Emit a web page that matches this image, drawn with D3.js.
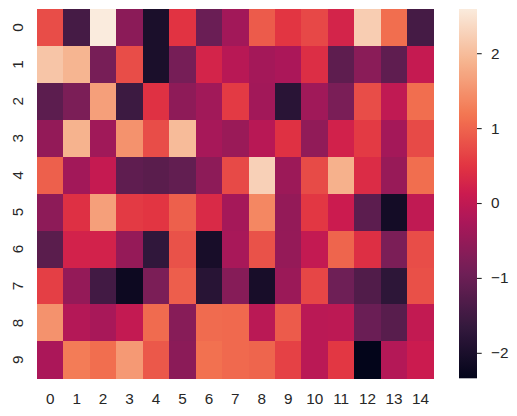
<!DOCTYPE html>
<html>
<head>
<meta charset="utf-8">
<script src="https://cdn.jsdelivr.net/npm/d3@7"></script>
<style>
  html, body { margin: 0; padding: 0; background: #ffffff; }
  svg { display: block; }
  text { font-family: "Liberation Sans", Arial, sans-serif; }
</style>
</head>
<body>
<svg id="chart" width="517" height="416"></svg>
<script>
const rowLabels = ["0","1","2","3","4","5","6","7","8","9"];
const colLabels = ["0","1","2","3","4","5","6","7","8","9","10","11","12","13","14"];

const row0 = [0.75, -1.45, 2.59, -0.62, -2.0, 0.48, -1.0, -0.35, 0.9, 0.5, 0.7, 0.25, 2.2, 1.1, -1.45];
const row1 = [2.1, 1.9, -0.85, 0.75, -2.0, -0.86, 0.25, -0.1, -0.33, -0.25, 0.4, -1.15, -0.63, -1.13, 0.05];
const row2 = [-1.17, -0.8, 1.65, -1.55, 0.45, -0.58, -0.37, 0.55, -0.35, -1.8, -0.38, -0.82, 0.75, 0.0, 1.1];
const row3 = [-0.53, 1.88, -0.38, 1.5, 0.75, 1.98, -0.3, -0.45, -0.1, 0.45, -0.55, 0.22, 0.55, -0.33, 0.72];
const row4 = [0.95, -0.35, 0.05, -1.13, -1.2, -1.1, -0.6, 0.72, 2.25, -0.42, 0.73, 1.85, 0.38, -0.47, 1.1];
const row5 = [-0.6, 0.43, 1.65, 0.55, 0.5, 0.95, 0.35, -0.32, 1.38, -0.52, 0.52, 0.12, -1.17, -2.1, 0.0];
const row6 = [-1.2, 0.23, 0.23, -0.5, -1.7, 0.8, -2.05, -0.28, 0.8, -0.5, 0.03, 1.0, 0.42, -0.8, 0.75];
const row7 = [0.6, -0.52, -1.48, -2.2, -0.8, 0.93, -1.82, -0.68, -2.05, -0.43, 0.68, -0.95, -1.3, -1.75, 0.78];
const row8 = [1.5, -0.15, -0.28, 0.03, 1.07, -0.67, 1.07, 1.05, -0.08, 0.9, -0.08, -0.05, -1.0, -1.22, 0.02];
const row9 = [-0.25, 1.25, 1.1, 1.58, 0.87, -0.62, 1.13, 1.05, 1.0, 0.62, -0.08, 0.52, -2.34, -0.15, 0.12];
const rows = [row0, row1, row2, row3, row4, row5, row6, row7, row8, row9];

const cbarTicks = [-2, -1, 0, 1, 2];

// rocket colormap anchors
const rocketStops = [0, 1/7, 2/7, 3/7, 0.5, 4/7, 5/7, 6/7, 1];
const rocketColors = ["#03051a", "#35193e", "#701f57", "#ad1759", "#cb1b4f", "#e13342", "#f37651", "#f6b48f", "#faebdd"];

const cells = [];
rows.forEach((r, i) => r.forEach((v, j) => cells.push({ row: rowLabels[i], col: colLabels[j], v })));

const vmin = d3.min(cells, d => d.v);
const vmax = d3.max(cells, d => d.v);

const rocket = d3.scaleLinear().domain(rocketStops).range(rocketColors).interpolate(d3.interpolateRgb).clamp(true);
const norm = d3.scaleLinear().domain([vmin, vmax]).range([0, 1]);
const color = v => rocket(norm(v));

const svg = d3.select("#chart");
const L = 37, R = 433.7, T = 9, B = 378.3;
const textColor = "#262626";
const fs = "15.3px";
const ff = '"Liberation Sans", Arial, sans-serif';

const x = d3.scaleBand().domain(colLabels).range([L, R]).padding(0);
const y = d3.scaleBand().domain(rowLabels).range([T, B]).padding(0);

svg.append("g").selectAll("rect").data(cells).join("rect")
  .attr("x", d => x(d.col))
  .attr("y", d => y(d.row))
  .attr("width", x.bandwidth() + 0.3)
  .attr("height", y.bandwidth() + 0.3)
  .attr("fill", d => color(d.v))
  .attr("shape-rendering", "crispEdges");

// x axis
const gx = svg.append("g").attr("transform", `translate(0,${B})`)
  .call(d3.axisBottom(x).tickSize(0).tickPadding(14.8));
gx.select(".domain").remove();
gx.selectAll("text").attr("fill", textColor).style("font-size", fs).style("font-family", ff);

// y axis
const gy = svg.append("g").attr("transform", `translate(${L},0)`)
  .call(d3.axisLeft(y).tickSize(0));
gy.select(".domain").remove();
gy.selectAll("text")
  .attr("x", 0).attr("dy", null)
  .attr("text-anchor", "middle")
  .attr("transform", "translate(-14.3,0) rotate(-90)")
  .attr("fill", textColor).style("font-size", fs).style("font-family", ff);

// colorbar
const cbL = 459, cbR = 477;
const cy = d3.scaleLinear().domain([vmin, vmax]).range([B, T]);
const defs = svg.append("defs");
const grad = defs.append("linearGradient").attr("id", "cbgrad")
  .attr("x1", 0).attr("y1", 1).attr("x2", 0).attr("y2", 0);
d3.range(0, 1.0001, 1/64).forEach(t => {
  grad.append("stop").attr("offset", t).attr("stop-color", rocket(t));
});
svg.append("rect").attr("x", cbL).attr("y", T).attr("width", cbR - cbL).attr("height", B - T)
  .attr("fill", "url(#cbgrad)");

const gc = svg.append("g").attr("transform", `translate(${cbR},0)`)
  .call(d3.axisRight(cy).tickValues(cbarTicks).tickSize(4.7).tickPadding(9.3)
    .tickFormat(d => d < 0 ? "\u2212" + Math.abs(d) : String(d)));
gc.select(".domain").remove();
gc.selectAll("line").attr("stroke", textColor).attr("stroke-width", 1.1);
gc.selectAll("text").attr("fill", textColor).style("font-size", fs).style("font-family", ff);
</script>
</body>
</html>
